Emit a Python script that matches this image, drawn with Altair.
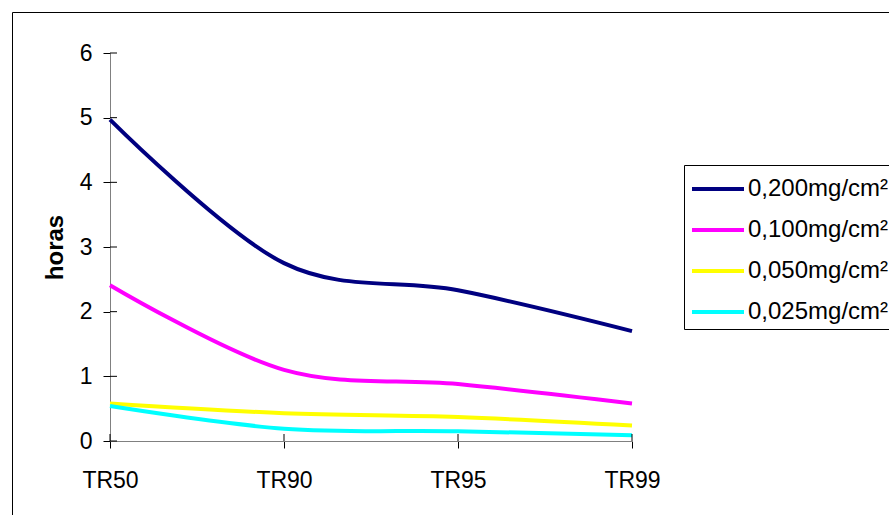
import altair as alt
import pandas as pd

categories = ["TR50", "TR90", "TR95", "TR99"]
series = ["0,200mg/cm²", "0,100mg/cm²", "0,050mg/cm²", "0,025mg/cm²"]
v200 = [4.97, 2.75, 2.33, 1.70]
v100 = [2.41, 1.10, 0.88, 0.58]
v050 = [0.58, 0.43, 0.37, 0.24]
v025 = [0.54, 0.19, 0.15, 0.09]
colors = ["#000080", "#FF00FF", "#FFFF00", "#00FFFF"]
y_ticks = [0, 1, 2, 3, 4, 5, 6]

rows = []
for s, vals in zip(series, [v200, v100, v050, v025]):
    for c, v in zip(categories, vals):
        rows.append({"cat": c, "val": v, "series": s})
df = pd.DataFrame(rows)

W, H = 522, 388
FONT = "Liberation Sans"

color = alt.Color("series:N", scale=alt.Scale(domain=series, range=colors), legend=None)
xscale = alt.Scale(type="point", domain=categories, padding=0)
yscale = alt.Scale(domain=[0, 6], nice=False)

xaxis = alt.Axis(title=None, labelFontSize=23, labelFont=FONT, labelColor="black",
                 labelPadding=21, tickSize=7, tickColor="black", tickWidth=1,
                 domainColor="#808080", domainWidth=1, grid=False, labelAngle=0)
yaxis = alt.Axis(title="horas", values=y_ticks, format="d", labelFontSize=23, labelFont=FONT,
                 labelColor="black", labelPadding=11, tickSize=7, tickColor="black",
                 tickWidth=1, domainColor="#808080", domainWidth=1, grid=False,
                 titleFont=FONT, titleFontSize=24, titleFontWeight="bold", titleColor="black",
                 titleAngle=270, titleX=-48, titleY=194, titleAlign="center",
                 titleBaseline="alphabetic")

lines = alt.Chart(df).mark_line(interpolate="cardinal", strokeWidth=4).encode(
    x=alt.X("cat:N", scale=xscale, axis=xaxis, sort=categories),
    y=alt.Y("val:Q", scale=yscale, axis=yaxis),
    color=color,
)

ytick_in = alt.Chart(pd.DataFrame({"val": y_ticks})).mark_rule(color="black", strokeWidth=1).encode(
    y=alt.Y("val:Q", scale=yscale, axis=yaxis),
    x=alt.value(0), x2=alt.value(7),
)
xtick_in = alt.Chart(pd.DataFrame({"cat": categories})).mark_rule(color="black", strokeWidth=1).encode(
    x=alt.X("cat:N", scale=xscale, axis=xaxis, sort=categories),
    y=alt.value(H - 7), y2=alt.value(H),
)

main = alt.layer(lines, ytick_in, xtick_in)

leg_df = pd.DataFrame({"series": series})
ly = alt.Y("series:N", scale=alt.Scale(type="point", domain=series, range=[136, 259], padding=0), axis=None)
leg_box = alt.Chart(alt.Data(values=[{"k": 0}])).mark_rect(fill="white", stroke="black", strokeWidth=1).encode(
    x=alt.value(574.5), x2=alt.value(1000), y=alt.value(112.5), y2=alt.value(276.5)
)
leg_rules = alt.Chart(leg_df).mark_rule(strokeWidth=4).encode(
    y=ly, x=alt.value(582), x2=alt.value(634), color=color
)
leg_text = alt.Chart(leg_df).mark_text(align="left", baseline="middle", fontSize=24, font=FONT, color="black").encode(
    y=ly, x=alt.value(638), text="series:N"
)
legend = alt.layer(leg_box, leg_rules, leg_text)

frame = alt.Chart(alt.Data(values=[{"k": 0}])).mark_rect(fillOpacity=0, stroke="black", strokeWidth=1).encode(
    x=alt.value(-97.5), x2=alt.value(900), y=alt.value(-40.5), y2=alt.value(600)
)

chart = alt.layer(frame, main, legend).resolve_scale(y="independent").properties(
    width=W, height=H,
    padding={"left": 110, "top": 53, "right": 257, "bottom": 74},
    autosize=alt.AutoSizeParams(type="none"),
).configure(background="white").configure_view(stroke=None)

chart.save("out.html", embed_options={"renderer": "svg", "actions": False})
